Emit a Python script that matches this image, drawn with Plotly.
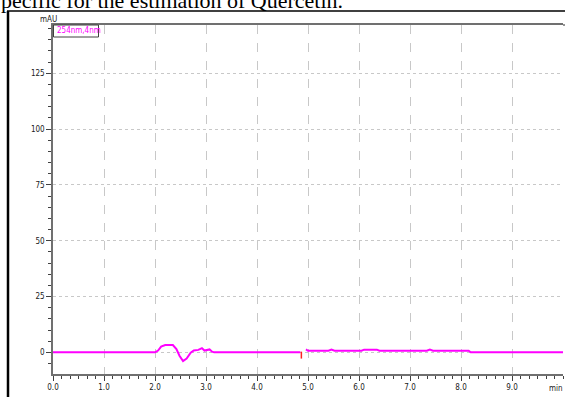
import plotly.graph_objects as go

# ---- data ----
time_min = [0.0, 2.0, 2.06, 2.12, 2.2, 2.35, 2.42, 2.48, 2.55, 2.62, 2.7, 2.76,
            2.85, 2.92, 2.97, 3.02, 3.07, 3.12, 3.16, 4.85,
            None,
            4.96, 5.0, 5.4, 5.46, 5.52, 6.05, 6.1, 6.35, 6.4, 7.33, 7.39, 7.45,
            8.15, 8.19, 10.0]
absorb_mau = [0.0, 0.0, 0.8, 2.6, 3.3, 3.3, 1.5, -1.5, -3.9, -2.8, -0.2, 0.8,
              1.1, 1.9, 0.8, 0.9, 1.3, 0.3, 0.0, 0.0,
              None,
              1.3, 0.7, 0.7, 1.2, 0.7, 0.7, 1.2, 1.2, 0.7, 0.7, 1.2, 0.7,
              0.7, 0.0, 0.0]
event_time = [4.87, 4.87]
event_level = [0.3, -2.8]

y_ticks = [0, 25, 50, 75, 100, 125]
y_tick_labels = ["0", "25", "50", "75", "100", "125"]
x_ticks = [0, 1, 2, 3, 4, 5, 6, 7, 8, 9]
x_tick_labels = ["0.0", "1.0", "2.0", "3.0", "4.0", "5.0", "6.0", "7.0", "8.0", "9.0"]

W, H = 565, 397
L, R, T, B = 53, 2, 25, 23
PW, PH = W - L - R, H - T - B


def px(x):
    return (x - L) / PW


def py(y):
    return (H - B - y) / PH


fig = go.Figure()
fig.add_trace(go.Scatter(x=time_min, y=absorb_mau, mode="lines",
                         line=dict(color="#FF00FF", width=2),
                         connectgaps=False, hoverinfo="skip"))
fig.add_trace(go.Scatter(x=event_time, y=event_level, mode="lines",
                         line=dict(color="#FF2020", width=1.5), hoverinfo="skip"))

axis_font = dict(family="DejaVu Sans Condensed, Arial", size=8, color="#202020")

fig.update_layout(
    width=W, height=H,
    margin=dict(l=L, r=R, t=T, b=B),
    paper_bgcolor="white", plot_bgcolor="white",
    showlegend=False,
    xaxis=dict(range=[0, 10], tickvals=x_ticks, ticktext=x_tick_labels,
               showgrid=True, gridcolor="#C8C8C8", griddash="dash", gridwidth=1,
               showline=True, linecolor="#707070", linewidth=1.5, mirror=True,
               ticks="outside", ticklen=5, tickcolor="#404040",
               minor=dict(dtick=1/6, ticks="outside", ticklen=3, tickcolor="#404040", showgrid=False),
               tickfont=axis_font, zeroline=False),
    yaxis=dict(range=[-9.7, 146.6], tickvals=y_ticks, ticktext=y_tick_labels,
               showgrid=True, gridcolor="#C8C8C8", griddash="dot", gridwidth=1,
               showline=True, linecolor="#707070", linewidth=1.5,
               ticks="outside", ticklen=5, tickcolor="#404040",
               minor=dict(dtick=5, ticks="outside", ticklen=3, tickcolor="#404040", showgrid=False),
               tickfont=axis_font, zeroline=False),
)

shapes = [
    # outer page frame
    dict(type="line", xref="paper", yref="paper", x0=px(8), x1=px(8), y0=py(11), y1=py(400),
         line=dict(color="black", width=2.5)),
    dict(type="line", xref="paper", yref="paper", x0=px(7), x1=px(566), y0=py(11), y1=py(11),
         line=dict(color="black", width=1.5)),
    # top border extension
    dict(type="line", xref="paper", yref="paper", x0=1, x1=px(566), y0=1, y1=1,
         line=dict(color="#707070", width=1.5)),
    # channel label box
    dict(type="rect", xref="paper", yref="paper", x0=px(53.5), x1=px(98.5), y0=py(37), y1=py(25),
         line=dict(color="#404040", width=1), fillcolor="white"),
]
fig.update_layout(shapes=shapes)

annotations = [
    dict(text="pecific for the estimation of Quercetin.", xref="paper", yref="paper",
         x=px(-1), y=py(1), xanchor="left", yanchor="middle", showarrow=False,
         font=dict(family="Liberation Serif, Times New Roman", size=22, color="black")),
    dict(text="mAU", xref="paper", yref="paper", x=px(48), y=py(19),
         xanchor="center", yanchor="middle", showarrow=False, font=axis_font),
    dict(text="254nm,4nm", xref="paper", yref="paper", x=px(55), y=py(31),
         xanchor="left", yanchor="middle", showarrow=False,
         font=dict(family="DejaVu Sans Condensed, Arial", size=8, color="#FF00FF")),
    dict(text="min", xref="paper", yref="paper", x=px(556), y=py(388),
         xanchor="center", yanchor="middle", showarrow=False, font=axis_font),
]
fig.update_layout(annotations=annotations)

fig.write_html("out.html")
